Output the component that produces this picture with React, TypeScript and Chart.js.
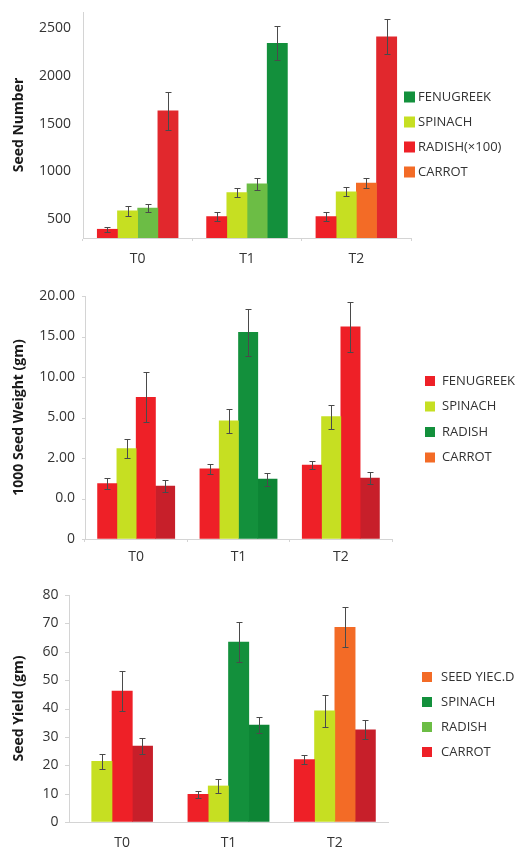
import React, { useEffect, useRef } from 'react';
import { Chart, registerables } from 'chart.js';

Chart.register(...registerables);
Chart.defaults.font.family = '"Open Sans", sans-serif';

// ---------- shared data ----------
const categories = ['T0', 'T1', 'T2'];

const RED = '#ee2027';
const RED2 = '#e1282d';
const YG = '#c6df22';
const MEDGREEN = '#6cbd45';
const DKGREEN = '#13903c';
const DKGREEN2 = '#0d8535';
const ORANGE = '#f36b26';
const DKRED = '#c71f2a';

// ---------- chart 1 : Seed Number ----------
const numberTicks = [500, 1000, 1500, 2000, 2500];
const numberLegend = ['FENUGREEK', 'SPINACH', 'RADISH(×100)', 'CARROT'];
const numberLegendColors = [DKGREEN, YG, RED, ORANGE];
const numberS1 = [390, 524, 524];
const numberS1Err = [24, 44, 44];
const numberS1Col = [RED, RED, RED];
const numberS2 = [584, 776, 784];
const numberS2Err = [52, 50, 50];
const numberS2Col = [YG, YG, YG];
const numberS3 = [612, 866, 874];
const numberS3Err = [45, 65, 55];
const numberS3Col = [MEDGREEN, MEDGREEN, ORANGE];
const numberS4 = [1632, 2341, 2411];
const numberS4Err = [198, 178, 185];
const numberS4Col = [RED2, DKGREEN, RED2];

// ---------- chart 2 : 1000 Seed Weight ----------
const weightTicks = [0, 5, 10, 15, 20, 25, 30];
const weightTickLabels = ['0', '0.0', '2.00', '5.00', '10.00', '15.00', '20.00'];
const weightLegend = ['FENUGREEK', 'SPINACH', 'RADISH', 'CARROT'];
const weightLegendColors = [RED, YG, DKGREEN, ORANGE];
const weightS1 = [6.85, 8.65, 9.14];
const weightS1Err = [0.62, 0.62, 0.55];
const weightS1Col = [RED, RED, RED];
const weightS2 = [11.15, 14.6, 15.1];
const weightS2Err = [1.2, 1.5, 1.5];
const weightS2Col = [YG, YG, YG];
const weightS3 = [17.5, 25.5, 26.2];
const weightS3Err = [3.1, 2.9, 3.1];
const weightS3Col = [RED, DKGREEN, RED];
const weightS4 = [6.54, 7.4, 7.53];
const weightS4Err = [0.7, 0.8, 0.7];
const weightS4Col = [DKRED, DKGREEN2, DKRED];

// ---------- chart 3 : Seed Yield ----------
const yieldTicks = [0, 10, 20, 30, 40, 50, 60, 70, 80];
const yieldLegend = ['SEED YIEC.D', 'SPINACH', 'RADISH', 'CARROT'];
const yieldLegendColors = [ORANGE, DKGREEN, MEDGREEN, RED];
const yieldS1 = [null, 9.75, 22.0];
const yieldS1Err = [0, 1.2, 1.5];
const yieldS1Col = [RED, RED, RED];
const yieldS2 = [21.4, 12.7, 39.2];
const yieldS2Err = [2.7, 2.6, 5.6];
const yieldS2Col = [YG, YG, YG];
const yieldS3 = [46.1, 63.4, 68.6];
const yieldS3Err = [7.1, 7.0, 7.0];
const yieldS3Col = [RED, DKGREEN, ORANGE];
const yieldS4 = [26.8, 34.2, 32.5];
const yieldS4Err = [2.8, 2.7, 3.3];
const yieldS4Col = [DKRED, DKGREEN2, DKRED];

// ---------- plugins ----------
function makeErrorPlugin(errors: number[][]) {
  return {
    id: 'errorBars',
    afterDatasetsDraw(chart: any) {
      const ctx = chart.ctx;
      const yScale = chart.scales.y;
      ctx.save();
      ctx.strokeStyle = '#4a4a4a';
      ctx.lineWidth = 1;
      chart.data.datasets.forEach((ds: any, i: number) => {
        const meta = chart.getDatasetMeta(i);
        meta.data.forEach((el: any, j: number) => {
          const v = ds.data[j];
          if (v === null || v === undefined) return;
          const e = errors[i][j];
          if (!e) return;
          const x = Math.round(el.x) + 0.5;
          const yt = Math.round(yScale.getPixelForValue(v + e)) + 0.5;
          const yb = Math.round(yScale.getPixelForValue(v - e)) + 0.5;
          ctx.beginPath();
          ctx.moveTo(x, yt);
          ctx.lineTo(x, yb);
          ctx.moveTo(x - 3, yt);
          ctx.lineTo(x + 3, yt);
          ctx.moveTo(x - 3, yb);
          ctx.lineTo(x + 3, yb);
          ctx.stroke();
        });
      });
      ctx.restore();
    },
  };
}

function makeLegendPlugin(labels: string[], colors: string[], lx: number, ly: number, gap: number, box: number, tx: number) {
  return {
    id: 'sideLegend',
    afterDraw(chart: any) {
      const ctx = chart.ctx;
      ctx.save();
      ctx.font = '13px "Open Sans", sans-serif';
      ctx.textBaseline = 'middle';
      ctx.textAlign = 'left';
      labels.forEach((lab, i) => {
        const cy = ly + i * gap;
        ctx.fillStyle = colors[i];
        ctx.fillRect(lx, cy - box / 2, box, box);
        ctx.fillStyle = '#333333';
        ctx.fillText(lab, tx, cy);
      });
      ctx.restore();
    },
  };
}

type PanelDef = {
  top: number;
  height: number;
  build: () => any;
};

function Panel({ top, height, build }: PanelDef) {
  const ref = useRef<HTMLCanvasElement | null>(null);
  useEffect(() => {
    if (!ref.current) return;
    const chart = new Chart(ref.current, build());
    return () => chart.destroy();
  }, []);
  return (
    <canvas
      ref={ref}
      width={519}
      height={height}
      style={{ position: 'absolute', left: 0, top, width: 519, height }}
    />
  );
}

function makeDatasets(values: (number | null)[][], cols: string[][], thickness: number) {
  return values.map((d, i) => ({
    data: d,
    backgroundColor: cols[i],
    borderWidth: 0,
    barThickness: thickness,
    skipNull: true,
  }));
}

function baseOptions(opts: {
  padTop: number;
  padRight: number;
  yMin: number;
  yMax: number;
  yTicks: number[];
  yLabel: (v: number) => string;
  yWidth: number;
  yGap: number;
  yTickLen: number;
  title: string;
  xHeight: number;
  xPad: number;
  xTickLen: number;
}) {
  // y labels are pushed away from the axis by an (invisible beyond yTickLen) tick mark
  return {
    responsive: false,
    animation: false,
    layout: { padding: { top: opts.padTop, right: opts.padRight, left: 0, bottom: 0 } },
    plugins: { legend: { display: false }, tooltip: { enabled: false } },
    scales: {
      x: {
        grid: {
          display: opts.xTickLen > 0,
          drawOnChartArea: false,
          drawTicks: opts.xTickLen > 0,
          tickLength: opts.xTickLen,
          color: '#d4d4d4',
          offset: true,
        },
        border: { display: true, color: '#d4d4d4', width: 1 },
        ticks: { color: '#333333', font: { size: 14 }, padding: opts.xPad, maxRotation: 0 },
        afterFit: (s: any) => {
          s.height = opts.xHeight;
        },
      },
      y: {
        min: opts.yMin,
        max: opts.yMax,
        afterBuildTicks: (s: any) => {
          s.ticks = opts.yTicks.map((v) => ({ value: v }));
        },
        grid: {
          display: true,
          drawOnChartArea: false,
          drawTicks: true,
          tickLength: opts.yGap,
          color: '#d4d4d4',
          tickColor: 'rgba(0,0,0,0)',
        },
        border: { display: true, color: '#d4d4d4', width: 1 },
        ticks: {
          color: '#333333',
          font: { size: 14 },
          padding: 0,
          callback: (v: any) => opts.yLabel(Number(v)),
        },
        title: {
          display: true,
          text: opts.title,
          color: '#1a1a1a',
          font: { size: 14, weight: 'bold' },
          padding: { top: 10.6, bottom: 0 },
        },
        afterFit: (s: any) => {
          s.width = opts.yWidth;
        },
      },
    },
  };
}

// small visible y tick marks, drawn from the y scale's own tick values
function makeYTickPlugin(len: number) {
  return {
    id: 'yTickMarks',
    afterDraw(chart: any) {
      if (!len) return;
      const ctx = chart.ctx;
      const ys = chart.scales.y;
      ctx.save();
      ctx.strokeStyle = '#d4d4d4';
      ctx.lineWidth = 1;
      ys.ticks.forEach((t: any) => {
        const y = Math.round(ys.getPixelForValue(t.value)) + 0.5;
        ctx.beginPath();
        ctx.moveTo(chart.chartArea.left - len, y);
        ctx.lineTo(chart.chartArea.left, y);
        ctx.stroke();
      });
      ctx.restore();
    },
  };
}

export default function App() {
  const panels: PanelDef[] = [
    {
      top: 0,
      height: 265,
      build: () => ({
        type: 'bar',
        data: {
          labels: categories,
          datasets: makeDatasets(
            [numberS1, numberS2, numberS3, numberS4],
            [numberS1Col, numberS2Col, numberS3Col, numberS4Col],
            20.2
          ),
        },
        options: baseOptions({
          padTop: 12,
          padRight: 108,
          yMin: 298,
          yMax: 2671,
          yTicks: numberTicks,
          yLabel: (v) => String(v),
          yWidth: 83,
          yGap: 12,
          yTickLen: 0,
          title: 'Seed Number',
          xHeight: 27,
          xPad: 10,
          xTickLen: 3,
        }),
        plugins: [
          makeErrorPlugin([numberS1Err, numberS2Err, numberS3Err, numberS4Err]),
          makeLegendPlugin(numberLegend, numberLegendColors, 404, 97, 25, 11, 418),
        ],
      }),
    },
    {
      top: 265,
      height: 300,
      build: () => ({
        type: 'bar',
        data: {
          labels: categories,
          datasets: makeDatasets(
            [weightS1, weightS2, weightS3, weightS4],
            [weightS1Col, weightS2Col, weightS3Col, weightS4Col],
            19.3
          ),
        },
        options: baseOptions({
          padTop: 31,
          padRight: 127,
          yMin: 0,
          yMax: 30,
          yTicks: weightTicks,
          yLabel: (v) => weightTickLabels[weightTicks.indexOf(v)] ?? '',
          yWidth: 85,
          yGap: 10,
          yTickLen: 3,
          title: '1000 Seed Weight (gm)',
          xHeight: 26,
          xPad: 7,
          xTickLen: 3,
        }),
        plugins: [
          makeErrorPlugin([weightS1Err, weightS2Err, weightS3Err, weightS4Err]),
          makeYTickPlugin(3),
          makeLegendPlugin(weightLegend, weightLegendColors, 425, 116, 25.5, 10, 442),
        ],
      }),
    },
    {
      top: 565,
      height: 284,
      build: () => ({
        type: 'bar',
        data: {
          labels: categories,
          datasets: makeDatasets(
            [yieldS1, yieldS2, yieldS3, yieldS4],
            [yieldS1Col, yieldS2Col, yieldS3Col, yieldS4Col],
            20.3
          ),
        },
        options: baseOptions({
          padTop: 30,
          padRight: 131,
          yMin: 0,
          yMax: 80,
          yTicks: yieldTicks,
          yLabel: (v) => String(v),
          yWidth: 69,
          yGap: 10.5,
          yTickLen: 4,
          title: 'Seed Yield (gm)',
          xHeight: 27,
          xPad: 13,
          xTickLen: 0,
        }),
        plugins: [
          makeErrorPlugin([yieldS1Err, yieldS2Err, yieldS3Err, yieldS4Err]),
          makeYTickPlugin(4),
          makeLegendPlugin(yieldLegend, yieldLegendColors, 422, 112, 25, 10, 441),
        ],
      }),
    },
  ];

  return (
    <div style={{ position: 'absolute', left: 0, top: 0, width: 519, height: 849, background: '#ffffff' }}>
      {panels.map((p, i) => (
        <Panel key={i} {...p} />
      ))}
    </div>
  );
}
